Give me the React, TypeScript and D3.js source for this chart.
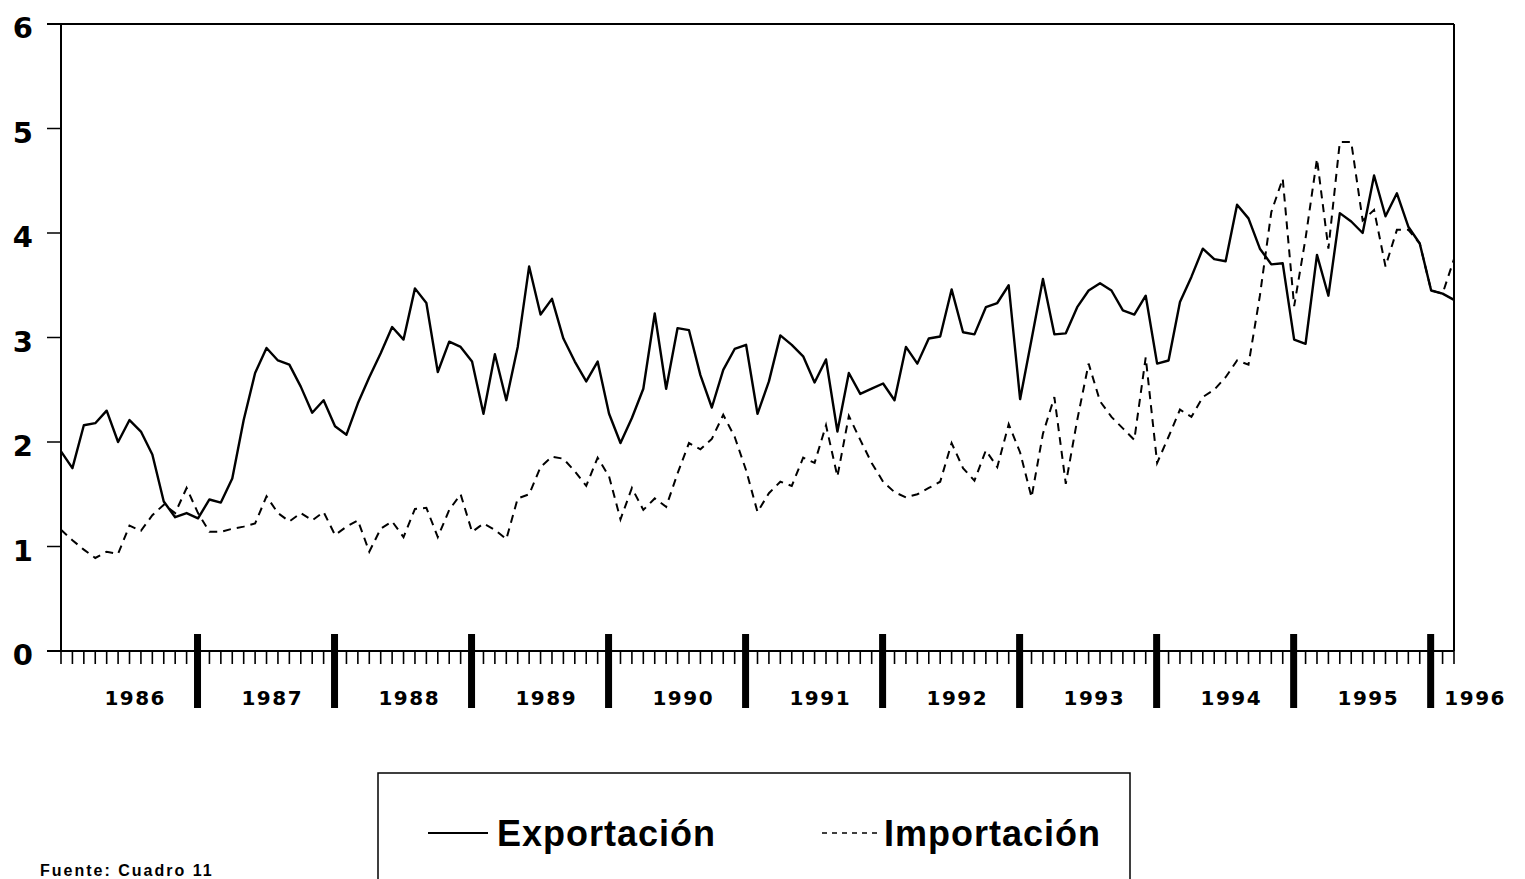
import * as d3 from "d3";

// Monthly values, Jan 1986 .. Mar 1996
const exportacion = [
  1.91, 1.75, 2.16, 2.18, 2.3, 2.0, 2.21, 2.1, 1.88, 1.43, 1.28, 1.32,
  1.27, 1.45, 1.42, 1.65, 2.21, 2.66, 2.9, 2.78, 2.74, 2.53, 2.28, 2.4,
  2.15, 2.07, 2.37, 2.62, 2.85, 3.1, 2.98, 3.47, 3.33, 2.67, 2.96, 2.91,
  2.77, 2.27, 2.84, 2.4, 2.91, 3.68, 3.22, 3.37, 2.99, 2.77, 2.58, 2.77,
  2.27, 1.99, 2.23, 2.51, 3.23, 2.51, 3.09, 3.07, 2.64, 2.33, 2.69, 2.89,
  2.93, 2.27, 2.58, 3.02, 2.93, 2.82, 2.57, 2.79, 2.1, 2.66, 2.46, 2.51,
  2.56, 2.4, 2.91, 2.75, 2.99, 3.01, 3.46, 3.05, 3.03, 3.29, 3.33, 3.5,
  2.41, 2.98, 3.56, 3.03, 3.04, 3.29, 3.45, 3.52, 3.45, 3.26, 3.22, 3.4,
  2.75, 2.78, 3.34, 3.58, 3.85, 3.75, 3.73, 4.27, 4.14, 3.85, 3.7, 3.71,
  2.98, 2.94, 3.79, 3.4, 4.19, 4.11, 4.0, 4.55, 4.16, 4.38, 4.06, 3.9,
  3.45, 3.42, 3.36,
];

const importacion = [
  1.16, 1.06, 0.97, 0.89, 0.95, 0.93, 1.2, 1.15, 1.3, 1.4, 1.32, 1.56,
  1.32, 1.14, 1.14, 1.17, 1.19, 1.22, 1.48, 1.32, 1.24, 1.32, 1.25, 1.33,
  1.11, 1.19, 1.25, 0.95, 1.17, 1.24, 1.09, 1.36, 1.37, 1.09, 1.35, 1.5,
  1.14, 1.22, 1.16, 1.07, 1.46, 1.5, 1.76, 1.86, 1.84, 1.72, 1.58, 1.85,
  1.67, 1.26, 1.56, 1.35, 1.46, 1.38, 1.7, 1.99, 1.93, 2.03, 2.26, 2.05,
  1.73, 1.33, 1.51, 1.62, 1.58, 1.85, 1.8, 2.16, 1.67, 2.25, 2.02, 1.8,
  1.62, 1.52, 1.47, 1.5, 1.56, 1.62, 1.99, 1.75, 1.63, 1.92, 1.76, 2.17,
  1.9, 1.47, 2.08, 2.43, 1.6, 2.21, 2.75, 2.39, 2.24, 2.13, 2.02, 2.81,
  1.8, 2.05, 2.31, 2.24, 2.43, 2.5, 2.62, 2.78, 2.74, 3.4, 4.2, 4.52,
  3.3, 3.95, 4.71, 3.85, 4.87, 4.87, 4.12, 4.22, 3.68, 4.03, 4.03, 3.9,
  3.45, 3.42, 3.75,
];

const years = ["1986", "1987", "1988", "1989", "1990", "1991", "1992", "1993", "1994", "1995"];
const lastYear = "1996";
const yTicks = [0, 1, 2, 3, 4, 5, 6];
const legendItems = ["Exportación", "Importación"];
const sourceNote = "Fuente: Cuadro 11";

const W = 1525;
const H = 879;
const months = exportacion.length - 1;

export default function App() {
  const x = d3.scaleLinear().domain([0, months]).range([61, 1454]);
  const y = d3.scaleLinear().domain([0, 6]).range([651, 24]);

  const line = d3
    .line<number>()
    .x((_, i) => x(i))
    .y((d) => y(d));

  const left = x(0);
  const right = x(months);
  const monthTicks = d3.range(0, months + 1);
  const yearTicks = d3.range(12, months, 12);

  const font = "'DejaVu Sans', 'Liberation Sans', Arial, sans-serif";
  const legendFont = "'Liberation Sans', Arial, sans-serif";

  return (
    <svg
      width={W}
      height={H}
      style={{ position: "absolute", left: 0, top: 0, background: "#fff" }}
    >
      {/* frame */}
      <line x1={47} x2={right} y1={y(6)} y2={y(6)} stroke="#000" strokeWidth={2} />
      <line x1={left} x2={left} y1={y(6)} y2={y(0)} stroke="#000" strokeWidth={2} />
      <line x1={right} x2={right} y1={y(6)} y2={y(0)} stroke="#000" strokeWidth={2} />
      <line x1={47} x2={right} y1={y(0)} y2={y(0)} stroke="#000" strokeWidth={2} />

      {/* y axis */}
      {yTicks.map((t) => (
        <g key={t}>
          <line x1={47} x2={left} y1={y(t)} y2={y(t)} stroke="#000" strokeWidth={1.5} />
          <text
            x={33}
            y={y(t) + 4}
            textAnchor="end"
            dominantBaseline="central"
            fontFamily={font}
            fontWeight="bold"
            fontSize={29}
          >
            {t}
          </text>
        </g>
      ))}

      {/* month ticks */}
      {monthTicks.map((m) => (
        <line
          key={m}
          x1={x(m)}
          x2={x(m)}
          y1={y(0)}
          y2={y(0) + 13}
          stroke="#000"
          strokeWidth={1.6}
        />
      ))}

      {/* year ticks */}
      {yearTicks.map((m) => (
        <rect key={m} x={x(m) - 4} y={y(0) - 17} width={7} height={74} fill="#000" />
      ))}

      {/* year labels */}
      {years.map((yr, i) => (
        <text
          key={yr}
          x={x(i * 12 + 6.5)}
          y={698}
          textAnchor="middle"
          dominantBaseline="central"
          fontFamily={font}
          fontWeight="bold"
          fontSize={20}
          letterSpacing={1.5}
        >
          {yr}
        </text>
      ))}
      <text
        x={x(120) + 44}
        y={698}
        textAnchor="middle"
        dominantBaseline="central"
        fontFamily={font}
        fontWeight="bold"
        fontSize={20}
        letterSpacing={1.5}
      >
        {lastYear}
      </text>

      {/* series */}
      <path
        d={line(importacion) || ""}
        fill="none"
        stroke="#000"
        strokeWidth={2}
        strokeDasharray="8,6"
      />
      <path
        d={line(exportacion) || ""}
        fill="none"
        stroke="#000"
        strokeWidth={2.4}
        strokeLinejoin="round"
      />

      {/* legend */}
      <rect x={378} y={773} width={752} height={140} fill="none" stroke="#000" strokeWidth={1.5} />
      <line x1={428} x2={488} y1={833} y2={833} stroke="#000" strokeWidth={1.8} />
      <text
        x={497}
        y={833}
        dominantBaseline="central"
        fontFamily={legendFont}
        fontWeight="bold"
        fontSize={36}
        letterSpacing={1}
      >
        {legendItems[0]}
      </text>
      <line
        x1={822}
        x2={878}
        y1={833}
        y2={833}
        stroke="#000"
        strokeWidth={1.5}
        strokeDasharray="5,5"
      />
      <text
        x={884}
        y={833}
        dominantBaseline="central"
        fontFamily={legendFont}
        fontWeight="bold"
        fontSize={36}
        letterSpacing={1}
      >
        {legendItems[1]}
      </text>

      {/* source note */}
      <text
        x={40}
        y={876}
        fontFamily={legendFont}
        fontWeight="bold"
        fontSize={16}
        letterSpacing={2}
      >
        {sourceNote}
      </text>
    </svg>
  );
}
